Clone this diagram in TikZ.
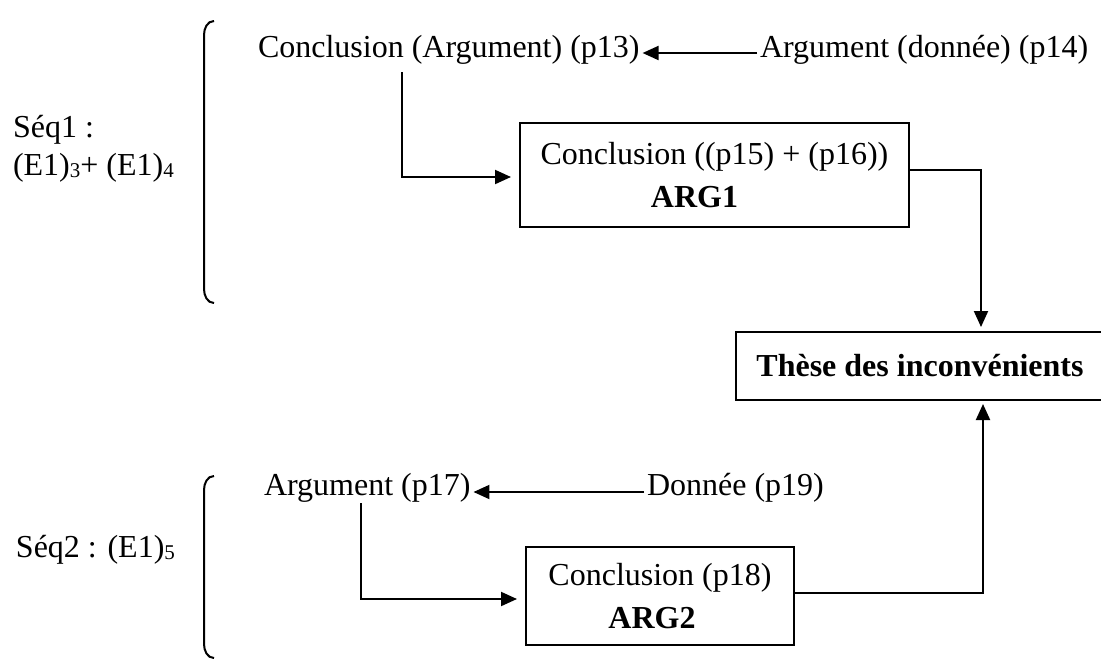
\documentclass[tikz,border=0pt]{standalone}
\usepackage{fontspec}
\setmainfont{Liberation Serif}
\usetikzlibrary{arrows.meta}
\newcommand{\seqidx}[1]{\raisebox{-1.5pt}{\fontsize{21}{21}\selectfont #1}}

\begin{document}
\begin{tikzpicture}[x=1pt, y=-1pt, line width=2pt,
  every node/.style={font=\fontsize{32}{43}\selectfont, inner sep=2pt},
  txt/.style={anchor=west},
  argbox/.style={draw, align=center, minimum height=98pt},
  fl/.style={-{Triangle[length=16pt,width=14pt]}}]
  \useasboundingbox (0,0) rectangle (1101,662);
  \draw (214,21) to[out=180,in=90] (204,35) -- (204,289) to[out=-90,in=180] (214,303);
  \draw (214,476) to[out=180,in=90] (204,490) -- (204,644) to[out=-90,in=180] (214,658);
  \node [txt, align=left, font=\fontsize{32}{38}\selectfont] (seq1) at (10,149) {Séq1 :\\(E1)\seqidx{3}+ (E1)\seqidx{4}};
  \node [txt] (seq2) at (13,550) {Séq2 : (E1)\seqidx{5}};

  \node [txt] (p13) at (255,50) {Conclusion (Argument) (p13)};
  \node [txt] (p14) at (757,50) {Argument (donnée) (p14)};
  \node [argbox, minimum width=389pt, minimum height=104pt] (arg1) at (714.5,175) {Conclusion ((p15) + (p16))\\\textbf{ARG1}\hspace*{1.25em}};
  \node [draw, minimum width=368pt, minimum height=68pt] (these) at (920,366) {\textbf{Thèse des inconvénients}};
  \node [txt] (p17) at (261,488) {Argument (p17)};
  \node [txt] (p19) at (644,488) {Donnée (p19)};
  \node [argbox, minimum width=268pt] (arg2) at (660,596) {Conclusion (p18)\\\textbf{ARG2}\hspace*{0.5em}};

  \coordinate (c1) at (402,72);
  \coordinate (c2) at (361,503);
  \draw [fl] ([yshift=-3pt]p14.west) -- ([yshift=-3pt]p13.east);
  \draw [fl, shorten >=8pt] (c1) |- ([yshift=-2pt]arg1.west);
  \draw [fl, shorten >=4pt] ([yshift=5pt]arg1.east) -| ([xshift=61pt]these.north);
  \draw [fl] ([yshift=-4pt]p19.west) -- ([yshift=-4pt]p17.east);
  \draw [fl, shorten >=8pt] (c2) |- ([yshift=-3pt]arg2.west);
  \draw [fl, shorten >=3pt] ([yshift=3pt]arg2.east) -| ([xshift=63pt]these.south);
\end{tikzpicture}
\end{document}
